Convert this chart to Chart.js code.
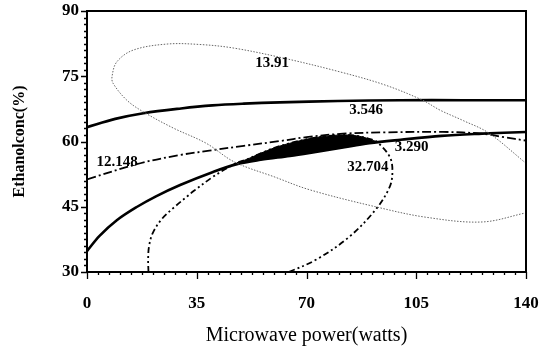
<!DOCTYPE html>
<html><head><meta charset="utf-8">
<script src="https://cdn.jsdelivr.net/npm/chart.js@4/dist/chart.umd.min.js"></script>
<style>html,body{margin:0;padding:0;background:#fff}#wrap{width:556px;height:352px}</style>
</head><body><div id="wrap"><canvas id="c" width="556" height="352"></canvas></div>
<script>
// ---- data ----
const xTickLabels = [0, 35, 70, 105, 140];
const yTickLabels = [30, 45, 60, 75, 90];
const minorPerMajor = 10;

// contour 3.546 (solid)
const c3546X = [0, 9, 18, 30, 40, 50, 61.5, 80, 100, 120, 140];
const c3546Y = [63.3, 65.2, 66.5, 67.6, 68.3, 68.7, 69.0, 69.3, 69.5, 69.5, 69.5];

// contour 3.290 (solid)
const c3290X = [0, 4, 9.5, 16, 22, 29.7, 40.2, 47.8, 55.4, 64.7, 72, 80.7, 90, 100, 113, 126, 140];
const c3290Y = [34.8, 38.3, 41.9, 45, 47.4, 50, 53, 54.8, 55.8, 56.7, 57.5, 58.5, 59.6, 60.4, 61.3, 61.8, 62.2];

// contour 12.148 (dash-dot)
const c12148X = [0, 17, 29.7, 39, 50, 61.5, 70, 81.6, 95, 113.5, 126, 133, 140];
const c12148Y = [51.3, 55, 56.9, 57.9, 59, 60.1, 61, 61.8, 62.1, 62.2, 61.8, 61, 60.2];

// contour 13.91 (dotted ellipse, cut by the right border)
const c1391X = [140, 128, 120, 112.6, 107, 95, 80.7, 62.5, 46.6, 36, 25.5, 14.7, 9.5, 8, 8.3, 12.7, 18, 27.5, 38, 47, 60, 71, 92, 108, 126, 140];
const c1391Y = [55, 62, 64.8, 67.2, 69.5, 73, 76, 79.2, 81.5, 82.3, 82.4, 81, 78.3, 75, 73.4, 69.5, 66.8, 63.1, 59.6, 55.3, 51.8, 48.9, 45, 42.6, 41.5, 43.6];

// contour 32.704 (dash-dot-dot ellipse, cut by the bottom border)
const c32704X = [19.6, 19.5, 19.8, 21, 24, 28, 32, 34, 40, 44, 47.8, 51, 55.4, 60, 64.7, 72, 80.7, 86, 90, 92.5, 96.6, 97.4, 96.5, 92, 83.5, 73, 64.4];
const c32704Y = [30, 33, 36, 39, 42.3, 45, 47.4, 48.6, 51.8, 53.6, 55.1, 55.9, 57.3, 58.6, 59.6, 60.8, 61.5, 61.3, 60.6, 59.9, 56.4, 53, 49.5, 44.3, 38, 32.8, 30];

// black overlap region (top = 32.704 arc, bottom = 3.290 line)
const shadeTopX = [47.8, 51, 55.4, 60, 64.7, 72, 80.7, 86, 90, 92.5];
const shadeTopY = [55.1, 55.9, 57.3, 58.6, 59.6, 60.8, 61.5, 61.3, 60.6, 59.9];
const shadeBotX = [92.5, 90, 80.7, 72, 64.7, 55.4, 47.8];
const shadeBotY = [59.9, 59.6, 58.5, 57.5, 56.7, 55.8, 55.1];

// contour labels
const labelText = ['13.91', '3.546', '12.148', '3.290', '32.704'];
const labelX = [59, 89, 9.6, 103.5, 89.6];
const labelY = [78, 67.2, 55.3, 58.7, 54.1];

const xTitle = 'Microwave power(watts)';
const yTitle = 'Ethanolconc(%)';

// ---- build ----
const pts = (xs, ys) => xs.map((x, i) => ({x, y: ys[i]}));
const SERIF = '"Liberation Serif", "Times New Roman", serif';

const base = {showLine: true, pointRadius: 0, pointHoverRadius: 0, fill: false, tension: 0.35};

const datasets = [
  Object.assign({}, base, {label: 'shade', data: pts(shadeTopX.concat(shadeBotX), shadeTopY.concat(shadeBotY)),
    fill: 'shape', backgroundColor: '#000', borderColor: '#000', borderWidth: 1, tension: 0.3}),
  Object.assign({}, base, {label: '13.91', data: pts(c1391X, c1391Y), borderColor: '#666', borderWidth: 1, borderDash: [1.5, 1.5]}),
  Object.assign({}, base, {label: '3.546', data: pts(c3546X, c3546Y), borderColor: '#000', borderWidth: 2.6}),
  Object.assign({}, base, {label: '3.290', data: pts(c3290X, c3290Y), borderColor: '#000', borderWidth: 2.6}),
  Object.assign({}, base, {label: '12.148', data: pts(c12148X, c12148Y), borderColor: '#000', borderWidth: 1.8, borderDash: [9, 3, 2, 3]}),
  Object.assign({}, base, {label: '32.704', data: pts(c32704X, c32704Y), borderColor: '#000', borderWidth: 1.8, borderDash: [6, 3, 2, 3, 2, 3]})
];

const framePlugin = {
  id: 'frameTicks',
  afterDatasetsDraw(chart) {
    const {ctx, chartArea: a, scales: {x, y}} = chart;
    ctx.save();
    ctx.strokeStyle = '#000';
    ctx.lineWidth = 2;
    ctx.strokeRect(a.left, a.top, a.right - a.left, a.bottom - a.top);
    ctx.lineWidth = 1.3;
    ctx.beginPath();
    const xStep = (xTickLabels[1] - xTickLabels[0]) / minorPerMajor;
    const nx = Math.round((xTickLabels[xTickLabels.length - 1] - xTickLabels[0]) / xStep);
    for (let i = 0; i <= nx; i++) {
      const px = Math.round(x.getPixelForValue(xTickLabels[0] + i * xStep)) + 0.5;
      const len = (i % minorPerMajor === 0) ? 7 : 3;
      ctx.moveTo(px, a.bottom);
      ctx.lineTo(px, a.bottom + len);
    }
    const yStep = (yTickLabels[1] - yTickLabels[0]) / minorPerMajor;
    const ny = Math.round((yTickLabels[yTickLabels.length - 1] - yTickLabels[0]) / yStep);
    for (let i = 0; i <= ny; i++) {
      const py = Math.round(y.getPixelForValue(yTickLabels[0] + i * yStep)) + 0.5;
      const len = (i % minorPerMajor === 0) ? 6 : 3;
      ctx.moveTo(a.left, py);
      ctx.lineTo(a.left - len, py);
    }
    ctx.stroke();
    // contour labels
    ctx.fillStyle = '#000';
    ctx.font = 'bold 15px ' + SERIF;
    ctx.textAlign = 'center';
    ctx.textBaseline = 'middle';
    labelText.forEach((t, i) => {
      ctx.fillText(t, x.getPixelForValue(labelX[i]), y.getPixelForValue(labelY[i]));
    });
    ctx.restore();
  }
};

new Chart(document.getElementById('c'), {
  type: 'scatter',
  data: {datasets},
  plugins: [framePlugin],
  options: {
    responsive: false,
    animation: false,
    devicePixelRatio: 1,
    layout: {padding: {top: 11, right: 30, left: 0, bottom: 0}},
    plugins: {legend: {display: false}, tooltip: {enabled: false}},
    scales: {
      x: {
        type: 'linear', min: xTickLabels[0], max: xTickLabels[xTickLabels.length - 1],
        afterBuildTicks: s => { s.ticks = xTickLabels.map(v => ({value: v})); },
        afterFit: s => { s.height = 80; s.paddingLeft = 0; s.paddingRight = 0; },
        grid: {display: false, drawTicks: false}, border: {display: false},
        ticks: {color: '#000', font: {family: SERIF, size: 17, weight: 'bold'}, padding: 21, maxRotation: 0, autoSkip: false},
        title: {display: true, text: xTitle, color: '#000', font: {family: SERIF, size: 20, weight: 'normal'}, padding: {top: 0, bottom: 4}}
      },
      y: {
        type: 'linear', min: yTickLabels[0], max: yTickLabels[yTickLabels.length - 1],
        afterBuildTicks: s => { s.ticks = yTickLabels.map(v => ({value: v})); },
        afterFit: s => { s.width = 87; s.paddingTop = 0; s.paddingBottom = 0; },
        grid: {display: false, drawTicks: false}, border: {display: false},
        ticks: {color: '#000', font: {family: SERIF, size: 17, weight: 'bold'}, padding: 8, autoSkip: false},
        title: {display: true, text: yTitle, color: '#000', font: {family: SERIF, size: 16, weight: 'bold'}, padding: {top: 10, bottom: 0}}
      }
    }
  }
});
</script>
</body></html>
